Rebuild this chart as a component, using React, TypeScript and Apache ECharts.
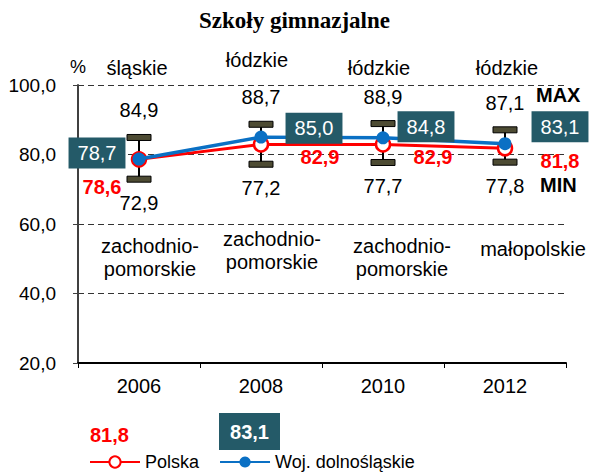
import React, { useEffect, useRef } from "react";
import * as echarts from "echarts";

const years = ["2006", "2008", "2010", "2012"];
const polska = [78.6, 82.9, 82.9, 81.8];
const woj = [78.7, 85.0, 84.8, 83.1];
const maxVals = [84.9, 88.7, 88.9, 87.1];
const minVals = [72.9, 77.2, 77.7, 77.8];
const maxRegions = ["śląskie", "łódzkie", "łódzkie", "łódzkie"];
const minRegions = ["zachodnio-\npomorskie", "zachodnio-\npomorskie", "zachodnio-\npomorskie", "małopolskie"];
const yTicks = [20, 40, 60, 80, 100];

// style-only label nudges (px)
const polskaLabelOffsets = [[-37, 28], [59, 13], [50, 13], [55, 13]];
const wojLabelOffsets = [[-42, -6], [53, -9], [43, -11], [55, -17]];
const maxRegionNudge = [[-2, 0], [-4, -8], [-4, 0], [2, 0]];
const minRegionNudge = [[11, 0], [11, -7], [19, 0], [28, -8]];

const FONT = "Liberation Sans, Arial, sans-serif";
const fmt = (v: number) => v.toFixed(1).replace(".", ",");
const TEAL = "#245a68";
const RED = "#ff0000";
const BLUE = "#0a70c4";

export default function App() {
  const ref = useRef<HTMLDivElement>(null);
  useEffect(() => {
    document.body.style.margin = "0";
    const chart = echarts.init(ref.current!, null, { renderer: "svg" });
    const txt = (text: string, x: number, y: number, extra: any = {}) => ({
      type: "text",
      style: {
        text, x, y,
        align: "center", verticalAlign: "middle",
        textAlign: "center", textVerticalAlign: "middle",
        fontSize: 20, fontFamily: FONT, fill: "#000",
        ...extra,
      },
    });
    chart.setOption({
      animation: false,
      textStyle: { fontFamily: FONT },
      title: {
        text: "Szkoły gimnazjalne",
        left: "center",
        top: 4,
        textStyle: { fontFamily: "Liberation Serif, Times New Roman, serif", fontWeight: "bold", fontSize: 23, color: "#000" },
      },
      grid: { left: 78, right: 23, top: 85, bottom: 112, containLabel: false },
      legend: {
        data: ["Polska", "Woj. dolnośląskie"],
        left: 84,
        top: 451,
        itemWidth: 50,
        itemHeight: 14,
        itemGap: 20,
        padding: [2, 5, 2, 5],
        textStyle: { fontSize: 18, color: "#000", fontFamily: FONT },
      },
      xAxis: {
        type: "category",
        data: years,
        boundaryGap: true,
        axisLine: { lineStyle: { color: "#000", width: 2 } },
        axisTick: { show: true, length: 5, lineStyle: { color: "#000", width: 1 } },
        axisLabel: { fontSize: 20, color: "#000", margin: 13, fontFamily: FONT },
        splitLine: { show: false },
      },
      yAxis: {
        type: "value",
        min: yTicks[0],
        max: yTicks[yTicks.length - 1],
        interval: 20,
        axisLine: { show: true, lineStyle: { color: "#404040", width: 2 } },
        axisTick: { show: true, length: 5, lineStyle: { color: "#404040" } },
        axisLabel: { fontSize: 19, color: "#000", margin: 22, formatter: (v: number) => fmt(v), fontFamily: FONT },
        splitLine: { show: true, lineStyle: { color: "#333", type: [6, 4], width: 1 } },
      },
      graphic: [
        { type: "text", left: 70, top: 58, style: { text: "%", fontSize: 18, fontFamily: FONT, fill: "#000" } },
        { type: "text", left: 536, top: 85, style: { text: "MAX", fontSize: 20, fontWeight: "bold", fontFamily: FONT, fill: "#000" } },
        { type: "text", left: 540, top: 175, style: { text: "MIN", fontSize: 20, fontWeight: "bold", fontFamily: FONT, fill: "#000" } },
        { type: "text", left: 90, top: 425, style: { text: fmt(polska[polska.length - 1]), fontSize: 20, fontWeight: "bold", fontFamily: FONT, fill: RED } },
        {
          type: "group", left: 219, top: 413,
          children: [
            { type: "rect", shape: { x: 0, y: 0, width: 61, height: 37 }, style: { fill: TEAL } },
            { type: "text", x: 30.5, y: 18.5, style: { text: fmt(woj[woj.length - 1]), align: "center", verticalAlign: "middle", textAlign: "center", textVerticalAlign: "middle", fontSize: 20, fontWeight: "bold", fontFamily: FONT, fill: "#fff" } },
          ],
        },
      ],
      series: [
        {
          type: "custom",
          name: "zakres",
          z: 1,
          data: years.map((_, i) => [i, minVals[i], maxVals[i]]),
          encode: { x: 0, y: [1, 2] },
          renderItem: (params: any, api: any) => {
            const i = params.dataIndex;
            const top = api.coord([i, api.value(2)]);
            const bot = api.coord([i, api.value(1)]);
            const x = top[0];
            const yAxisTop = api.coord([i, 100])[1];
            const y60 = api.coord([i, 60])[1];
            return {
              type: "group",
              children: [
                { type: "line", shape: { x1: x, y1: top[1], x2: x, y2: bot[1] }, style: { stroke: "#000", lineWidth: 2 } },
                { type: "rect", shape: { x: x - 12, y: top[1] - 3, width: 24, height: 6 }, style: { fill: "#4d4b33", stroke: "#000", lineWidth: 1 } },
                { type: "rect", shape: { x: x - 12, y: bot[1] - 3, width: 24, height: 6 }, style: { fill: "#4d4b33", stroke: "#000", lineWidth: 1 } },
                txt(fmt(maxVals[i]), x, top[1] - 27),
                txt(fmt(minVals[i]), x, bot[1] + 24),
                txt(maxRegions[i], x + maxRegionNudge[i][0], yAxisTop - 17 + maxRegionNudge[i][1]),
                txt(minRegions[i], x + minRegionNudge[i][0], y60 + 33 + minRegionNudge[i][1], { lineHeight: 23 }),
              ],
            };
          },
        },
        {
          type: "line",
          name: "Polska",
          z: 3,
          data: polska.map((v, i) => ({ value: v, label: { offset: polskaLabelOffsets[i] } })),
          symbol: "circle",
          symbolSize: 14,
          lineStyle: { color: RED, width: 3 },
          itemStyle: { color: "#fff", borderColor: RED, borderWidth: 2.5 },
          label: {
            show: true,
            position: "inside",
            formatter: (p: any) => fmt(p.value),
            color: RED,
            fontWeight: "bold",
            fontSize: 20,
            fontFamily: FONT,
          },
        },
        {
          type: "line",
          name: "Woj. dolnośląskie",
          z: 4,
          data: woj.map((v, i) => ({ value: v, label: { offset: wojLabelOffsets[i] } })),
          symbol: "circle",
          symbolSize: 13,
          lineStyle: { color: BLUE, width: 3.5 },
          itemStyle: { color: BLUE },
          label: {
            show: true,
            position: "inside",
            formatter: (p: any) => fmt(p.value),
            color: "#fff",
            backgroundColor: TEAL,
            padding: [6, 9, 5, 9],
            fontSize: 20,
            fontFamily: FONT,
          },
        },
      ],
    });
    return () => chart.dispose();
  }, []);
  return <div ref={ref} style={{ width: 589, height: 475 }} />;
}
